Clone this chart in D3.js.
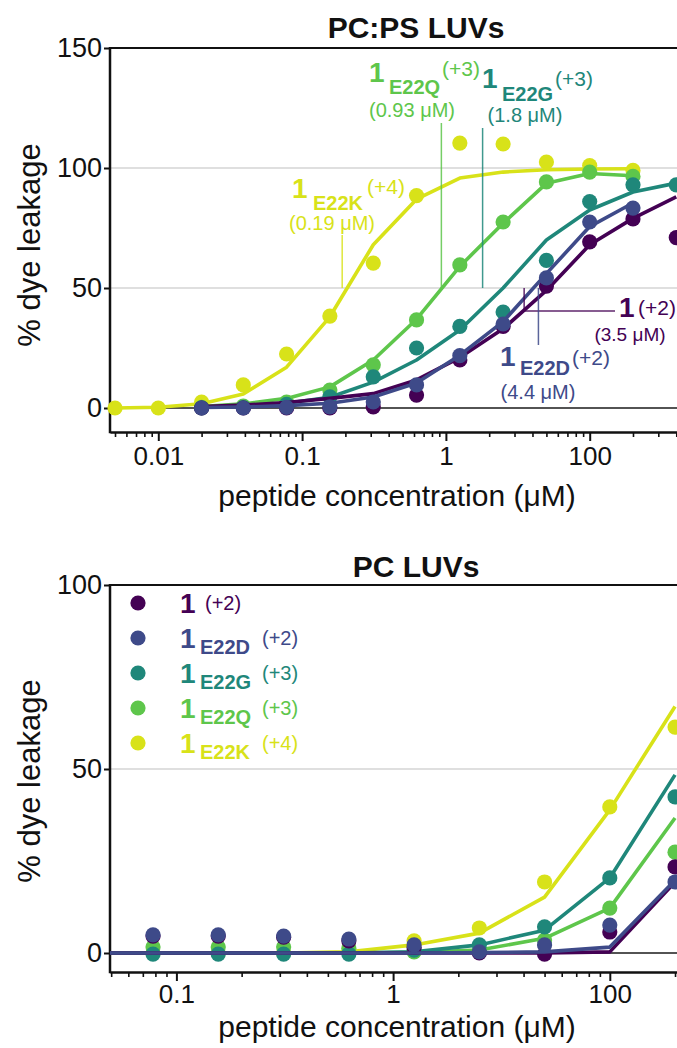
<!DOCTYPE html>
<html>
<head>
<meta charset="utf-8">
<script src="https://cdn.jsdelivr.net/npm/d3@7"></script>
<style>
  html, body { margin: 0; padding: 0; background: #fff; }
  svg { display: block; font-family: "Liberation Sans", Arial, Helvetica, sans-serif; }
</style>
</head>
<body>
<svg id="chart" width="677" height="1048"></svg>
<script>
// ---------------- data ----------------
// peptide series: 1, 1-E22D, 1-E22G, 1-E22Q, 1-E22K
const seriesSubs    = ["", "E22D", "E22G", "E22Q", "E22K"];
const seriesCharges = ["(+2)", "(+2)", "(+3)", "(+3)", "(+4)"];
const seriesColors  = ["#440154", "#3e4a89", "#1f877a", "#5ec64b", "#d8e219"];
const ec50PCPS      = [3.5, 4.4, 1.8, 0.93, 0.19];   // µM, PC:PS LUVs

// PC:PS LUVs — concentration series (µM)
const concPCPS = [0.005, 0.01, 0.02, 0.039, 0.078, 0.156, 0.3125, 0.625, 1.25, 2.5, 5, 10, 20, 40];
// index in concPCPS where each series starts
const startPCPS = [2, 2, 2, 2, 0];

// measured % leakage
const pcps1    = [0, 0, 0, 0, 0.5, 5.4, 20, 34, 50.8, 69.2, 78.8, 71];
const pcpsE22D = [0, 0, 0.3, 0.5, 2.5, 9.6, 21.8, 35, 54.2, 77.5, 83.3];
const pcpsE22G = [0, 0.2, 1.5, 4.6, 13, 25, 34, 40, 61.5, 86, 93, 93];
const pcpsE22Q = [0.3, 0.8, 2.5, 7.5, 18, 36.7, 59.6, 77.5, 94.2, 98.3, 96.5];
const pcpsE22K = [0, 0, 2.5, 9.6, 22.5, 38.3, 60.4, 88.5, 110.4, 110, 102.5, 101, 99];

// fitted curves at the same concentrations
const pcpsFit1    = [0.6, 1.2, 2.3, 4, 6, 11.7, 21, 33, 49, 68, 79, 88];
const pcpsFitE22D = [0.2, 0.4, 1, 2, 4.6, 10.4, 22, 36, 56, 75.6, 85.4];
const pcpsFitE22G = [0.3, 0.8, 2, 4.5, 10.8, 20, 32.5, 50, 70, 82.5, 90, 93.7];
const pcpsFitE22Q = [0.6, 1.7, 4, 8.8, 20, 37, 59, 77, 93.6, 97.7, 96.8];
const pcpsFitE22K = [0, 0.3, 1.8, 5.8, 17, 38, 68, 87, 95.8, 98.3, 99.3, 99.6, 99.7];

// PC LUVs — concentration series (µM); points start at index 1, fits at index 0
const concPC = [0.039, 0.078, 0.156, 0.3125, 0.625, 1.25, 2.5, 5, 10, 20];

const pc1    = [4.6, 4.6, 4.3, 3.3, 1.5, 0, -0.3, 5.7, 23.4];
const pcE22D = [4.9, 4.9, 4.6, 3.8, 2.2, 0.3, 2.2, 7.6, 19.3];
const pcE22G = [-0.3, -0.3, -0.3, -0.3, 0.8, 2.2, 7.1, 20.4, 42.4];
const pcE22Q = [1.6, 1.6, 1.6, 1.3, 0.3, 0.5, 3.5, 12.2, 27.4];
const pcE22K = [0, 0, 0, 0.5, 3.3, 6.8, 19.3, 39.7, 61.4];

const pcFit1    = [0, 0, 0, 0, 0, 0, 0, 0, 0.3, 19.3];
const pcFitE22D = [0, 0, 0, 0, 0, 0, 0.1, 0.3, 1.6, 19.8];
const pcFitE22G = [0, 0, 0, 0, 0, 0.3, 2.2, 6.2, 20.4, 48.4];
const pcFitE22Q = [0, 0, 0, 0, 0, 0.2, 0.8, 4, 12.2, 36.7];
const pcFitE22K = [0, 0, 0, 0, 0.3, 2.2, 5.4, 15.2, 38.9, 67];

// axis ticks
const xTickValues = [0.01, 0.1, 1, 10];
const xTickLabels = ["0.01", "0.1", "1", "100"];
const yTicksPCPS  = [0, 50, 100, 150];
const yTicksPC    = [0, 50, 100];

const titles = ["PC:PS LUVs", "PC LUVs"];
const xTitle = "peptide concentration (μM)";
const yTitle = "% dye leakage";

// ---------------- drawing ----------------
const svg = d3.select("#chart");
const FONT = '"Liberation Sans", Arial, Helvetica, sans-serif';
const drawOrder = [4, 3, 2, 0, 1];

function minorTicks(lo, hi) {
  const out = [];
  for (let e = -4; e <= 3; e++) {
    for (let k = 2; k <= 9; k++) {
      const v = k * Math.pow(10, e);
      if (v >= lo && v <= hi) out.push(v);
    }
  }
  return out;
}

function panel(cfg) {
  const g = svg.append("g");
  const L = 110, R = 690;

  // log x scale: anchored at two decades, then extended to the plot edges
  const x0 = d3.scaleLog().domain([cfg.dA, cfg.dB]).range([cfg.pA, cfg.pB]);
  const x = d3.scaleLog().domain([x0.invert(L), x0.invert(R)]).range([L, R]);
  const y = d3.scaleLinear().domain([0, cfg.yMax]).range([cfg.y0, cfg.yTop]);

  // grid lines
  g.selectAll("line.grid").data(cfg.yTicks.filter(v => v > 0 && v < cfg.yMax)).enter()
    .append("line").attr("class", "grid")
    .attr("x1", L).attr("x2", 677).attr("y1", d => y(d)).attr("y2", d => y(d))
    .attr("stroke", "#d4d4d4").attr("stroke-width", 1.6);

  // top frame line
  g.append("line").attr("x1", L).attr("x2", 677)
    .attr("y1", y(cfg.yMax)).attr("y2", y(cfg.yMax))
    .attr("stroke", "#111").attr("stroke-width", 2);

  // zero line
  g.append("line").attr("x1", L).attr("x2", 677)
    .attr("y1", y(0)).attr("y2", y(0))
    .attr("stroke", "#1a1a1a").attr("stroke-width", 1.5);

  // x axis (major + minor); only decades inside the domain are labelled
  const [lo, hi] = x.domain();
  const majorIdx = xTickValues.map((v, i) => i).filter(i => xTickValues[i] >= lo && xTickValues[i] <= hi);
  const ax = g.append("g").attr("transform", `translate(0,${cfg.axisY})`)
    .call(d3.axisBottom(x).tickValues(majorIdx.map(i => xTickValues[i]))
      .tickFormat(d => xTickLabels[xTickValues.indexOf(d)])
      .tickSize(9).tickSizeOuter(0).tickPadding(cfg.xPad));
  ax.select(".domain").attr("stroke", "#111").attr("stroke-width", 2.5);
  ax.selectAll(".tick line").attr("stroke", "#111").attr("stroke-width", 2);
  ax.selectAll(".tick text").attr("font-size", 26).attr("font-family", FONT).attr("fill", "#111");
  ax.attr("font-family", null).attr("font-size", null);

  const axm = g.append("g").attr("transform", `translate(0,${cfg.axisY})`)
    .call(d3.axisBottom(x).tickValues(minorTicks(lo, hi))
      .tickFormat("").tickSize(5).tickSizeOuter(0));
  axm.select(".domain").remove();
  axm.selectAll(".tick line").attr("stroke", "#111").attr("stroke-width", 1.6);

  // y axis
  const ay = g.append("g").attr("transform", `translate(${L},0)`)
    .call(d3.axisLeft(y).tickValues(cfg.yTicks).tickSize(6).tickPadding(2));
  ay.select(".domain").remove();
  ay.selectAll(".tick line").attr("stroke", "#111").attr("stroke-width", 2);
  ay.selectAll(".tick text").attr("font-size", 27).attr("font-family", FONT).attr("fill", "#111");
  ay.attr("font-family", null).attr("font-size", null);
  g.append("line").attr("x1", L).attr("x2", L)
    .attr("y1", y(cfg.yMax) - 1).attr("y2", cfg.axisY + 1.2)
    .attr("stroke", "#111").attr("stroke-width", 2.5);

  // title and axis titles
  g.append("text").attr("x", 416).attr("y", cfg.titleY).attr("text-anchor", "middle")
    .attr("font-size", 30).attr("font-weight", "bold").attr("fill", "#111").text(cfg.title);
  g.append("text").attr("x", 397).attr("y", cfg.xTitleY).attr("text-anchor", "middle")
    .attr("font-size", 30).attr("fill", "#111").text(xTitle);
  g.append("text").attr("transform", `translate(40,${cfg.yTitleC}) rotate(-90)`)
    .attr("text-anchor", "middle").attr("font-size", 31).attr("fill", "#111").text(yTitle);

  // clip for the fitted lines
  const clipId = "clip" + cfg.id;
  svg.append("clipPath").attr("id", clipId).append("rect")
    .attr("x", L).attr("y", 0).attr("width", 700).attr("height", 1048);

  const line = d3.line().x(d => x(d[0])).y(d => y(d[1]));
  const series = drawOrder.map(i => ({ i, ...cfg.series[i] }));

  series.forEach(s => {
    const fitPts = s.fit.map((v, k) => [cfg.conc[s.fitStart + k], v]);
    const pts = s.pts.map((v, k) => [cfg.conc[s.ptStart + k], v]);
    const sg = g.append("g");
    sg.append("path").datum(fitPts).attr("d", line)
      .attr("fill", "none").attr("stroke", seriesColors[s.i]).attr("stroke-width", 3.6)
      .attr("stroke-linejoin", "round").attr("clip-path", `url(#${clipId})`);
    sg.selectAll("circle").data(pts).enter().append("circle")
      .attr("cx", d => x(d[0])).attr("cy", d => y(d[1])).attr("r", 7.6)
      .attr("fill", seriesColors[s.i]);
  });

  return { g, x, y };
}

// label: bold "1", bold subscript, regular charge superscript — one text element
function peptideLabel(g, i, lay, sizes) {
  const t = g.append("text").attr("fill", seriesColors[i]);
  t.append("tspan").attr("x", lay.x1).attr("y", lay.y1).attr("font-size", sizes.one)
    .attr("font-weight", "bold").text("1");
  if (seriesSubs[i]) {
    t.append("tspan").attr("x", lay.subX).attr("y", lay.subY).attr("font-size", sizes.sub)
      .attr("font-weight", "bold").text(seriesSubs[i]);
  }
  t.append("tspan").attr("x", lay.supX).attr("y", lay.supY).attr("font-size", sizes.sup)
    .text(seriesCharges[i]);
}

// ---------- PC:PS LUVs ----------
const panelPCPS = panel({
  id: "a", title: titles[0], titleY: 38,
  dA: 0.01, dB: 10, pA: 158.3, pB: 589.7,
  yMax: 150, y0: 408, yTop: 48, axisY: 432, yTicks: yTicksPCPS,
  xPad: 6, xTitleY: 506, yTitleC: 245,
  conc: concPCPS,
  series: [
    { pts: pcps1,    fit: pcpsFit1,    ptStart: startPCPS[0], fitStart: startPCPS[0] },
    { pts: pcpsE22D, fit: pcpsFitE22D, ptStart: startPCPS[1], fitStart: startPCPS[1] },
    { pts: pcpsE22G, fit: pcpsFitE22G, ptStart: startPCPS[2], fitStart: startPCPS[2] },
    { pts: pcpsE22Q, fit: pcpsFitE22Q, ptStart: startPCPS[3], fitStart: startPCPS[3] },
    { pts: pcpsE22K, fit: pcpsFitE22K, ptStart: startPCPS[4], fitStart: startPCPS[4] }
  ]
});

// EC50 annotations with leader lines at the stated EC50
const annLayout = [
  { x1: 619, y1: 317, supX: 638, supY: 315, ecX: 630, ecY: 341, ecSize: 19, bend: 311, endX: 615 },
  { x1: 500, y1: 366, subX: 520, subY: 375, supX: 572, supY: 365, ecX: 538, ecY: 399, ecSize: 20, lineTo: 345 },
  { x1: 482, y1: 88,  subX: 502, subY: 101, supX: 555, supY: 86,  ecX: 525, ecY: 122, ecSize: 20, lineFrom: 128 },
  { x1: 369, y1: 82,  subX: 389, subY: 94,  supX: 442, supY: 76,  ecX: 412, ecY: 117, ecSize: 20, lineFrom: 123 },
  { x1: 292, y1: 198, subX: 313, subY: 210, supX: 367, supY: 194, ecX: 332, ecY: 230, ecSize: 20, lineFrom: 235 }
];
const annG = panelPCPS.g.append("g");
annLayout.forEach((lay, i) => {
  const c = seriesColors[i];
  const xe = panelPCPS.x(ec50PCPS[i]);
  const ym = panelPCPS.y(50);
  let pts;
  if (lay.bend !== undefined) pts = [[xe, ym], [xe, lay.bend], [lay.endX, lay.bend]];
  else if (lay.lineTo !== undefined) pts = [[xe, ym], [xe, lay.lineTo]];
  else pts = [[xe, lay.lineFrom], [xe, ym]];
  annG.append("path").attr("d", d3.line()(pts)).attr("fill", "none")
    .attr("stroke", c).attr("stroke-width", 1.5).attr("stroke-opacity", 0.85);
  peptideLabel(annG, i, lay, { one: 28, sub: 20, sup: 21 });
  annG.append("text").attr("x", lay.ecX).attr("y", lay.ecY).attr("text-anchor", "middle")
    .attr("font-size", lay.ecSize).attr("fill", c).text(`(${ec50PCPS[i]} μM)`);
});

// ---------- PC LUVs ----------
const panelPC = panel({
  id: "b", title: titles[1], titleY: 577,
  dA: 0.1, dB: 10, pA: 176.4, pB: 609.8,
  yMax: 100, y0: 953, yTop: 585, axisY: 972, yTicks: yTicksPC,
  xPad: 4, xTitleY: 1037, yTitleC: 781,
  conc: concPC,
  series: [
    { pts: pc1,    fit: pcFit1,    ptStart: 1, fitStart: 0 },
    { pts: pcE22D, fit: pcFitE22D, ptStart: 1, fitStart: 0 },
    { pts: pcE22G, fit: pcFitE22G, ptStart: 1, fitStart: 0 },
    { pts: pcE22Q, fit: pcFitE22Q, ptStart: 1, fitStart: 0 },
    { pts: pcE22K, fit: pcFitE22K, ptStart: 1, fitStart: 0 }
  ]
});

// legend
const leg = panelPC.g.append("g");
seriesColors.forEach((c, i) => {
  const cy = 603 + i * 35;
  leg.append("circle").attr("cx", 138).attr("cy", cy).attr("r", 7.6).attr("fill", c);
  const lay = i === 0
    ? { x1: 180, y1: cy + 9.5, supX: 205, supY: cy + 6.5 }
    : { x1: 180, y1: cy + 9.5, subX: 200, subY: cy + 16, supX: 262, supY: cy + 7 };
  peptideLabel(leg, i, lay, { one: 28, sub: 20, sup: 20 });
});
</script>
</body>
</html>
